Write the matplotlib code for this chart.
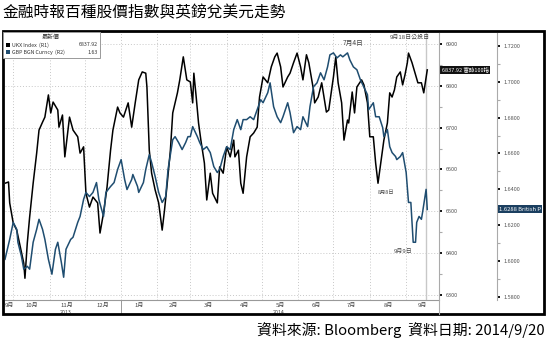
import numpy as np
import pandas as pd
import matplotlib
matplotlib.use("Agg")
import matplotlib.pyplot as plt
import matplotlib.transforms as mtrans
from matplotlib.patches import Rectangle
from matplotlib.lines import Line2D

plt.rcParams['font.family'] = ['Noto Sans CJK TC', 'DejaVu Sans']

### DATA ###
base_date = pd.Timestamp("2013-10-01")

# FTSE 100 (UKX) - day offsets from base_date and closes
ukx_days = [-7, -4, -3, 0, 3, 6, 9, 10, 12, 14, 17, 20, 22, 25, 27, 30, 32, 34, 38, 39,
            42, 44, 48, 51, 55, 57, 60, 62, 65, 68, 72, 74, 77, 80, 83, 85, 89, 91, 94, 98,
            101, 104, 107, 110, 113, 114, 116, 118, 121, 124, 127, 129, 131, 134, 136, 140,
            142, 145, 148, 151, 153, 154, 156, 158, 160, 163, 165, 168, 170, 174, 176, 179,
            182, 185, 188, 189, 192, 194, 196, 199, 202, 205, 208, 210, 213, 217, 220, 223,
            225, 228, 230, 234, 236, 239, 242, 245, 247, 250, 252, 256, 257, 260, 263, 267,
            269, 273, 275, 277, 280, 282, 285, 286, 289, 291, 293, 297, 299, 302, 304, 307,
            309, 311, 314, 316, 319, 321, 323, 325, 327, 330, 332, 334, 336, 337, 340, 343,
            345, 348, 350, 353]
ukx_vals = [6567, 6570, 6520, 6472, 6455, 6415, 6376, 6340, 6424, 6486, 6567, 6639, 6694, 6713,
            6725, 6778, 6735, 6761, 6742, 6701, 6730, 6630, 6725, 6694, 6678, 6639, 6654, 6543,
            6510, 6534, 6520, 6448, 6496, 6558, 6646, 6694, 6749, 6735, 6725, 6759, 6701, 6759,
            6814, 6833, 6830, 6797, 6646, 6591, 6551, 6520, 6455, 6503, 6558, 6646, 6735, 6783,
            6814, 6869, 6814, 6809, 6759, 6830, 6773, 6711, 6670, 6615, 6527, 6591, 6543, 6520,
            6606, 6591, 6654, 6630, 6670, 6630, 6646, 6567, 6543, 6630, 6678, 6687, 6701, 6773,
            6821, 6807, 6845, 6869, 6878, 6845, 6797, 6821, 6830, 6855, 6878, 6845, 6814, 6874,
            6855, 6790, 6759, 6773, 6807, 6737, 6742, 6821, 6869, 6807, 6759, 6670, 6718, 6711,
            6785, 6735, 6797, 6814, 6802, 6759, 6678, 6678, 6615, 6567, 6630, 6670, 6711, 6783,
            6773, 6790, 6821, 6833, 6802, 6826, 6855, 6878, 6855, 6826, 6807, 6807, 6783, 6837.92]

# GBP/USD - day offsets and rates
gbp_days = [-7, -5, -3, 0, 3, 4, 7, 9, 12, 14, 17, 20, 22, 25, 27, 30, 33, 36, 38, 41, 43, 45,
            49, 51, 55, 57, 60, 62, 65, 68, 71, 73, 77, 79, 83, 86, 89, 92, 95, 97, 101, 102,
            106, 107, 111, 113, 116, 118, 121, 124, 127, 130, 132, 136, 138, 141, 144, 147,
            149, 151, 153, 157, 159, 162, 165, 168, 171, 174, 176, 179, 182, 185, 188, 191,
            194, 196, 199, 202, 205, 208, 211, 213, 217, 219, 222, 225, 228, 230, 234, 236,
            239, 242, 245, 247, 251, 253, 256, 259, 262, 265, 268, 270, 273, 276, 279, 281,
            285, 287, 290, 293, 296, 298, 302, 303, 307, 309, 312, 315, 316, 319, 321, 323,
            326, 327, 330, 332, 335, 337, 339, 341, 343, 344, 346, 348, 349, 352, 353]
gbp_vals = [1.6010, 1.6066, 1.6121, 1.6216, 1.6177, 1.6105, 1.6027, 1.5955, 1.5971, 1.5955,
            1.6105, 1.6177, 1.6233, 1.6177, 1.6121, 1.6010, 1.5927, 1.6066, 1.6105, 1.5994,
            1.5910, 1.6066, 1.6121, 1.6133, 1.6216, 1.6249, 1.6344, 1.6383, 1.6360, 1.6383,
            1.6438, 1.6344, 1.6249, 1.6383, 1.6416, 1.6438, 1.6511, 1.6566, 1.6455, 1.6399,
            1.6455, 1.6483, 1.6416, 1.6383, 1.6438, 1.6511, 1.6594, 1.6550, 1.6472, 1.6383,
            1.6327, 1.6360, 1.6511, 1.6677, 1.6694, 1.6661, 1.6622, 1.6661, 1.6694, 1.6694,
            1.6750, 1.6694, 1.6661, 1.6622, 1.6638, 1.6605, 1.6527, 1.6494, 1.6511, 1.6583,
            1.6638, 1.6622, 1.6733, 1.6789, 1.6733, 1.6789, 1.6789, 1.6805, 1.6789, 1.6844,
            1.6900, 1.6883, 1.6939, 1.6994, 1.6861, 1.6805, 1.6772, 1.6805, 1.6883, 1.6828,
            1.6716, 1.6750, 1.6733, 1.6805, 1.6750, 1.6861, 1.6972, 1.6994, 1.7050, 1.7011,
            1.7083, 1.7150, 1.7161, 1.7133, 1.7150, 1.7139, 1.7161, 1.7122, 1.7083, 1.7067,
            1.7011, 1.6983, 1.6928, 1.6844, 1.6883, 1.6805, 1.6805, 1.6744, 1.6694, 1.6733,
            1.6638, 1.6605, 1.6583, 1.6566, 1.6583, 1.6605, 1.6494, 1.6327, 1.6327, 1.6105,
            1.6105, 1.6216, 1.6249, 1.6233, 1.6272, 1.6400, 1.6288]

month_labels = ['9月', '10月', '11月', '12月', '1月', '2月', '3月', '4月', '5月', '6月', '7月', '8月', '9月']
ukx_ticks = [6300, 6400, 6500, 6600, 6700, 6800, 6900]
gbp_ticks = [1.58, 1.60, 1.62, 1.64, 1.66, 1.68, 1.70, 1.72]
ukx_last = 6837.92
gbp_last = 1.6288

ukx_dates = base_date + pd.to_timedelta(ukx_days, unit='D')
gbp_dates = base_date + pd.to_timedelta(gbp_days, unit='D')

### FIGURE ###
W, H = 549, 348
fig = plt.figure(figsize=(W / 100, H / 100), dpi=100)

def fx(px):
    return px / W

def fy(py):
    return 1 - py / H

ax = fig.add_axes([fx(5), fy(300), fx(439) - fx(5), fy(33) - fy(300)])
ax2 = ax.twinx()

ax.plot(ukx_dates, ukx_vals, color='black', lw=1.1, zorder=3)
ax2.plot(gbp_dates, gbp_vals, color='#1f4d70', lw=1.1, zorder=3)

x0 = base_date - pd.Timedelta(days=7)
x1 = base_date + pd.Timedelta(days=363)
ax.set_xlim(x0, x1)
ax.set_ylim(6288, 6926)
ax2.set_ylim(1.5783, 1.7272)

# month boundaries as grid, labels centred on visible part of each month
month_starts = pd.date_range("2013-09-01", "2014-10-01", freq='MS')
mids = []
for a, b in zip(month_starts[:-1], month_starts[1:]):
    a = max(a, x0)
    b = min(b, x1)
    mids.append(a + (b - a) / 2)
ax.set_xticks(mids)
ax.set_xticklabels(month_labels, fontsize=4.3, color='#444')
ax.set_xticks(month_starts[1:-1], minor=True)
ax.tick_params(axis='x', which='both', length=0, pad=2)
ax.grid(True, axis='x', which='minor', ls=(0, (1, 2)), color='#c8c8c8', lw=0.7)

# UKX axis on the right of plot
ax.yaxis.tick_right()
ax.set_yticks(ukx_ticks)
ax.set_yticklabels([str(t) for t in ukx_ticks], fontsize=4, color='#555')
ax.set_yticks(np.arange(6350, 6900, 100), minor=True)
ax.tick_params(axis='y', which='major', length=2.5, width=1.3, color='black', pad=2, direction='out')
ax.tick_params(axis='y', which='minor', length=2, width=0.8, color='#aaa', direction='out')
ax.grid(True, axis='y', which='major', ls=(0, (1, 2)), color='#c8c8c8', lw=0.7)

# GBP axis further right
ax2.spines['right'].set_position(('axes', 1 + 58 / 434))
ax2.set_yticks(gbp_ticks)
ax2.set_yticklabels(['%.4f' % t for t in gbp_ticks], fontsize=4, color='#555')
ax2.set_yticks(np.arange(1.59, 1.72, 0.02), minor=True)
ax2.tick_params(axis='y', which='major', length=2.5, width=1.3, color='black', pad=2)
ax2.tick_params(axis='y', which='minor', length=2, width=0.8, color='#aaa')

for a in (ax, ax2):
    a.spines['top'].set_visible(False)
    a.spines['left'].set_visible(False)
    a.spines['bottom'].set_color('#999')
    a.spines['bottom'].set_linewidth(0.8)
ax.spines['right'].set_visible(False)
ax2.spines['right'].set_color('#aaa')
ax2.spines['right'].set_linewidth(0.8)
ax2.spines['bottom'].set_visible(False)

# referendum day line
ax.axvline(pd.Timestamp("2014-09-18"), color='#c8c8c8', lw=1, zorder=2)

# year labels and separator
trans = mtrans.blended_transform_factory(ax.transData, ax.transAxes)
ax.text(pd.Timestamp("2013-11-15"), -0.045, '2013', fontsize=3.8, color='#444',
        ha='center', va='center', transform=trans)
ax.text(pd.Timestamp("2014-05-15"), -0.045, '2014', fontsize=3.8, color='#444',
        ha='center', va='center', transform=trans)
ax.add_line(Line2D([pd.Timestamp("2014-01-01")] * 2, [0, -0.05], transform=trans,
                   color='#999', lw=0.7, clip_on=False))

# annotations
ax.text(base_date + pd.Timedelta(days=290), 6902, '7月4日', fontsize=4.8, color='#444',
        ha='center', va='center')
ax.text(base_date + pd.Timedelta(days=338), 6916, '9月18日公投日', fontsize=4.3, color='#444',
        ha='center', va='center')
ax.text(base_date + pd.Timedelta(days=318), 6546, '8月8日', fontsize=3.8, color='#444',
        ha='center', va='center')
ax.text(base_date + pd.Timedelta(days=332), 6405, '9月9日', fontsize=4.3, color='#444',
        ha='center', va='center')

# last value tags
tr1 = mtrans.blended_transform_factory(ax.transAxes, ax.transData)
ax.text(1.006, ukx_last, '%.2f 富時100指' % ukx_last, transform=tr1, fontsize=4, color='white',
        ha='left', va='center', clip_on=False,
        bbox=dict(boxstyle='square,pad=0.25', fc='#111', ec='none'))
tr2 = mtrans.blended_transform_factory(ax2.transAxes, ax2.transData)
ax2.text(1 + 60 / 434, gbp_last, '%.4f British P' % gbp_last, transform=tr2, fontsize=4.2,
         color='white', ha='left', va='center', clip_on=False,
         bbox=dict(boxstyle='square,pad=0.25', fc='#1b3f60', ec='none'))

# plot right edge line
fig.add_artist(Line2D([fx(439), fx(439)], [fy(314), fy(33)], color='#aaa', lw=0.8))

# outer frame
fig.add_artist(Rectangle((fx(3), fy(314)), fx(544) - fx(3), fy(31) - fy(314),
                         fill=False, ec='black', lw=2))

# legend box
fig.add_artist(Rectangle((fx(3), fy(58)), fx(100) - fx(3), fy(32) - fy(58),
                         fc='white', ec='#999', lw=0.7, zorder=5))
fig.text(fx(51), fy(37.5), '最新價', fontsize=4.3, color='#333', ha='center', va='center', zorder=6)
rows = [('UKX Index  (R1)', '6837.92', 'black'), ('GBP BGN Curncy  (R2)', '1.63', '#1f4d70')]
for i, (name, val, col) in enumerate(rows):
    yy = 45 + i * 7
    fig.add_artist(Rectangle((fx(6), fy(yy + 2)), fx(4), fy(0) - fy(4), fc=col, ec='none', zorder=6))
    fig.text(fx(12), fy(yy), name, fontsize=3.8, color='#333', ha='left', va='center', zorder=6)
    fig.text(fx(98), fy(yy), val, fontsize=3.8, color='#333', ha='right', va='center', zorder=6)

# title and source
fig.text(fx(3), fy(13), '金融時報百種股價指數與英鎊兌美元走勢', fontsize=11.3, color='black',
         ha='left', va='center')
fig.text(fx(545), fy(330), '資料來源: Bloomberg  資料日期: 2014/9/20', fontsize=10.7,
         color='black', ha='right', va='center')

fig.savefig('out.png', dpi=100)
